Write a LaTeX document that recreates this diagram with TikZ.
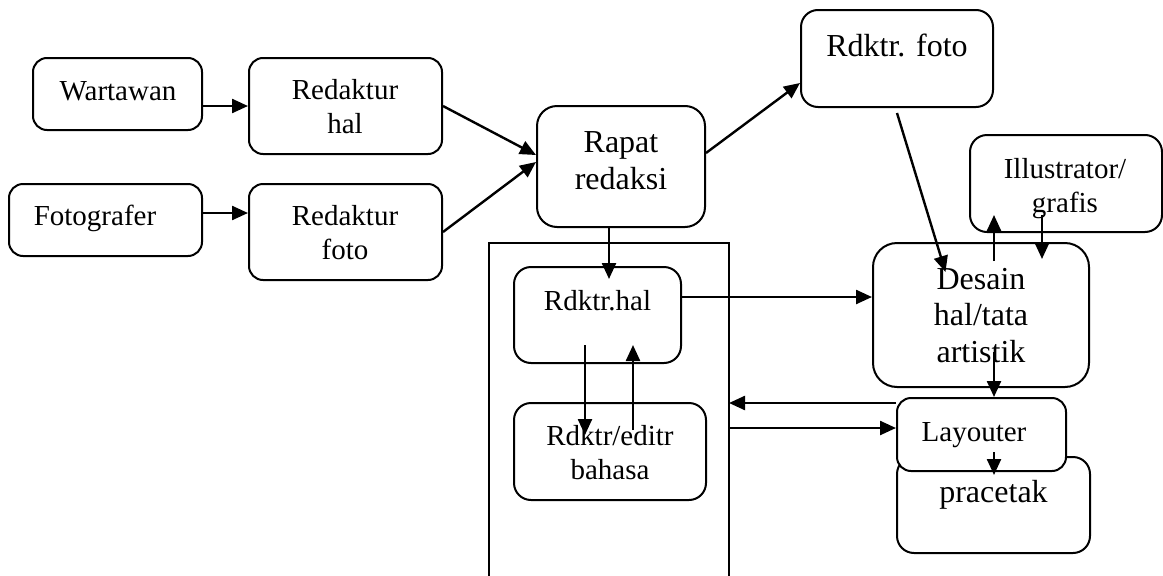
\documentclass[tikz,border=0pt]{standalone}
\usepackage{fontspec}
\setmainfont{Liberation Serif}
\usetikzlibrary{arrows.meta}

\tikzset{
  box/.style={draw, line width=2pt, rounded corners=#1, inner sep=0pt, fill=white},
  box/.default=14pt,
  arr/.style={line width=2.4pt, -{Triangle[length=16pt,width=14pt]}},
  frame/.style={line width=1.6pt},
  sm/.style={font=\fontsize{29}{33.5}\selectfont, inner sep=0pt, align=center, anchor=base},
  lg/.style={font=\fontsize{32}{36.5}\selectfont, inner sep=0pt, align=center, anchor=base}
}

\begin{document}
\begin{tikzpicture}[x=1pt, y=-1pt]
\useasboundingbox (0,0) rectangle (1163,576);

% open frame around the language-editing desk
\coordinate (ob-bl) at (489,578);
\coordinate (ob-tl) at (489,243);
\coordinate (ob-tr) at (729,243);
\coordinate (ob-br) at (729,578);
\draw[frame] (ob-bl) -- (ob-tl) -- (ob-tr) -- (ob-br);

% boxes
\node[box, minimum width=169pt, minimum height=72pt] (w)   at (117.5,94)  {};
\node[box, minimum width=193pt, minimum height=96pt] (rh)  at (345.5,106) {};
\node[box, minimum width=193pt, minimum height=72pt] (fg)  at (105.5,220) {};
\node[box, minimum width=193pt, minimum height=96pt] (rfo) at (345.5,232) {};
\node[box=20pt, minimum width=168pt, minimum height=121pt] (rp) at (621,166.5) {};
\node[box=17pt, minimum width=192pt, minimum height=97pt] (rdf) at (897,58.5) {};
\node[box=17pt, minimum width=192pt, minimum height=97pt] (il)  at (1066,183.5) {};
\node[box=24pt, minimum width=216pt, minimum height=144pt] (ds) at (981,315) {};
\node[box=17pt, minimum width=167pt, minimum height=96pt] (rdh) at (597.5,315) {};
\node[box=17pt, minimum width=192pt, minimum height=97pt] (ed)  at (610,451.5) {};
\node[box=17pt, minimum width=193pt, minimum height=96pt] (pc)  at (993.5,505) {};
\node[box, minimum width=169pt, minimum height=73pt] (ly)  at (981.5,434.5) {};

% labels (anchored on the baseline of the last line)
\node[sm] (t-w)   at (118,100)   {Wartawan};
\node[sm] (t-rh)  at (345,133)   {Redaktur\\hal};
\node[sm] (t-fg)  at (95,225)    {Fotografer};
\node[sm] (t-rfo) at (345,259)   {Redaktur\\foto};
\node[lg] (t-rp)  at (621,189)   {Rapat\\redaksi};
\node[lg] (t-rdf) at (897,56)    {Rdktr. foto};
\node[sm] (t-il)  at (1065,212)  {Illustrator/\\grafis};
\node[lg] (t-ds)  at (981,362)   {Desain\\hal/tata\\artistik};
\node[sm] (t-rdh) at (597.5,310) {Rdktr.hal};
\node[sm] (t-ed)  at (610,479)   {Rdktr/editr\\bahasa};
\node[sm] (t-ly)  at (974,441)   {Layouter};
\node[lg] (t-pc)  at (993.5,502) {pracetak};

% connectors
\draw[arr] (w.east |- rh.east) -- (rh.west);
\coordinate (fg-out) at ([yshift=7pt]fg.east);
\draw[arr] (fg-out) -- (fg-out -| rfo.west);
\draw[arr] (rh.east) -- ([yshift=11.5pt]rp.west);
\draw[arr] (rfo.east) -- ([yshift=4.5pt]rp.west);
\draw[arr] ([yshift=13.5pt]rp.east) -- ([yshift=-24.5pt]rdf.west);
\draw[arr] ([xshift=-12pt]rp.south) -- ([xshift=11.5pt,yshift=-13pt]rdh.north);
\draw[arr] ([yshift=-5pt]rdf.south) -- ([xshift=-35.5pt,yshift=-30pt]ds.north);
\draw[arr] ([xshift=13pt,yshift=-19pt]ds.north) -- ([xshift=-72pt,yshift=18pt]il.south);
\draw[arr] ([xshift=-24pt,yshift=18pt]il.south) -- ([xshift=61pt,yshift=-17pt]ds.north);
\draw[arr] ([yshift=18pt]rdh.east) -- ([yshift=18pt]ds.west);
\draw[arr] ([xshift=-12.5pt,yshift=-30pt]rdh.center) -- ([xshift=-25pt,yshift=16.5pt]ed.center);
\draw[arr] ([xshift=23pt,yshift=21.5pt]ed.center) -- ([xshift=35.5pt,yshift=-30pt]rdh.center);
\draw[arr] ([xshift=13pt,yshift=-37pt]ds.center) -- ([xshift=12.5pt]ly.north);
\coordinate (ly-back) at ([yshift=31.5pt]ly.west);
\draw[arr] (ly-back) -- (ly-back -| ob-tr);
\coordinate (ly-in) at ([yshift=6.5pt]ly.west);
\draw[arr] (ly-in -| ob-tr) -- (ly-in);
\draw[arr] ([xshift=12.5pt,yshift=-17.5pt]ly.center) -- ([xshift=0.5pt,yshift=30pt]pc.center);
\end{tikzpicture}
\end{document}
